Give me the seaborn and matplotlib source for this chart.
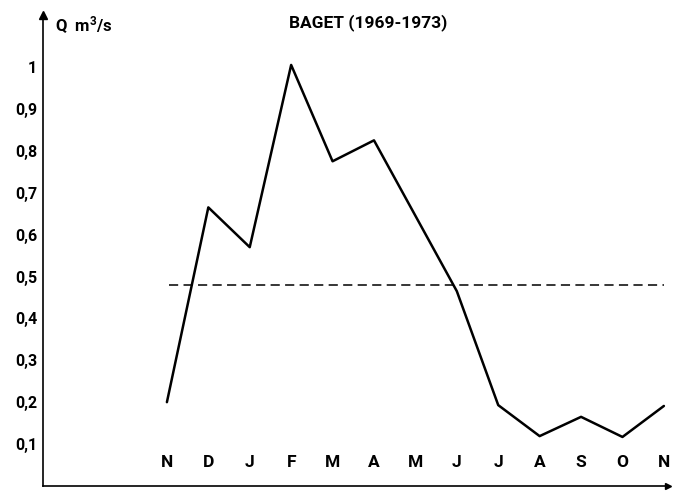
import matplotlib
matplotlib.use("Agg")
import matplotlib.pyplot as plt
import seaborn as sns
import pandas as pd
import numpy as np

# Mean monthly discharge, Baget (1969-1973), November to November
months = ["N", "D", "J", "F", "M", "A", "M", "J", "J", "A", "S", "O", "N"]
discharge = [0.20, 0.665, 0.57, 1.005, 0.775, 0.825, 0.645, 0.465, 0.193, 0.119, 0.165, 0.117, 0.191]
mean_discharge = 0.48
yticks = [0.1, 0.2, 0.3, 0.4, 0.5, 0.6, 0.7, 0.8, 0.9, 1.0]
ytick_labels = ["0,1", "0,2", "0,3", "0,4", "0,5", "0,6", "0,7", "0,8", "0,9", "1"]
title = "BAGET (1969-1973)"
ylabel = "Q  m$^3$/s"

sns.set_theme(style="white")
plt.rcParams["font.family"] = ["Roboto", "DejaVu Sans"]
plt.rcParams["font.weight"] = "bold"
plt.rcParams["text.color"] = "black"
plt.rcParams["ytick.color"] = "black"
plt.rcParams["xtick.color"] = "black"
plt.rcParams["mathtext.fontset"] = "custom"
plt.rcParams["mathtext.rm"] = "Roboto:bold"
plt.rcParams["mathtext.bf"] = "Roboto:bold"
plt.rcParams["mathtext.default"] = "bf"

df = pd.DataFrame({"pos": np.arange(len(months)), "Q": discharge})

fig = plt.figure(figsize=(6.73, 4.91), dpi=100)
ax = fig.add_axes([0, 0, 1, 1])

sns.lineplot(data=df, x="pos", y="Q", ax=ax, color="black", linewidth=1.8)
ax.plot([0.05, 12], [mean_discharge, mean_discharge], color="black",
        linewidth=1.1, dashes=(6, 3.5))

ax.set_xlim(-4.03, 12.22)
ax.set_ylim(-0.012, 1.16)

# axes drawn as arrows from the origin
x0 = -3.0
for s in ["top", "right"]:
    ax.spines[s].set_visible(False)
ax.spines["left"].set_position(("data", x0))
ax.spines["bottom"].set_position(("data", 0))
ax.spines["left"].set_bounds(0, 1.125)
ax.spines["bottom"].set_bounds(x0, 12.1)
for s in ["left", "bottom"]:
    ax.spines[s].set_color("black")
    ax.spines[s].set_linewidth(1.2)
ax.plot([x0], [1.125], marker="^", color="black", markersize=6, clip_on=False)
ax.plot([12.1], [0], marker=">", color="black", markersize=5, clip_on=False)

ax.set_yticks(yticks)
ax.set_yticklabels(ytick_labels, fontsize=11.5, fontweight="bold", color="black")
ax.tick_params(axis="y", direction="out", length=3, width=1, pad=1, color="black")

ax.set_xticks(df["pos"])
ax.set_xticklabels([])
ax.tick_params(axis="x", direction="inout", length=6, width=1, color="black")

for i, m in enumerate(months):
    ax.text(i, 0.055, m, ha="center", va="center", fontsize=12.5, fontweight="bold",
            color="black")

ax.text(x0 + 0.3, 1.10, ylabel, ha="left", va="center", fontsize=12,
        fontweight="bold", color="black")
ax.text(4.85, 1.107, title, ha="center", va="center", fontsize=12.5,
        fontweight="bold", color="black")

ax.set_xlabel("")
ax.set_ylabel("")
ax.grid(False)

fig.savefig("out.png", dpi=100, facecolor="white")
